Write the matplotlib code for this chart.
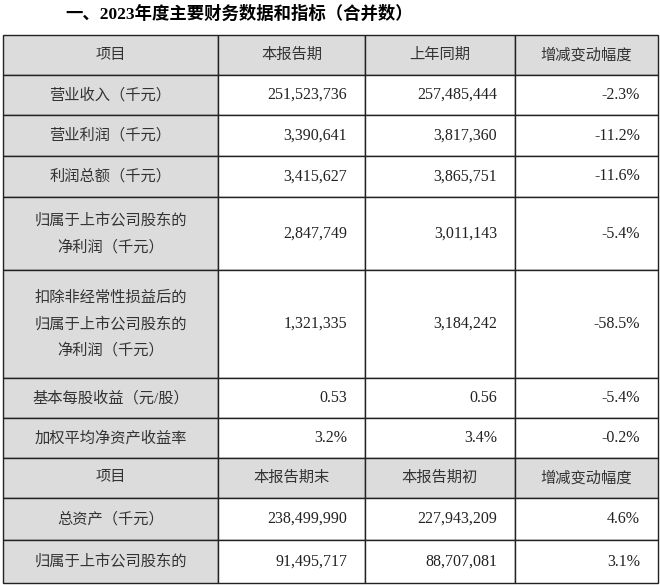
import matplotlib
matplotlib.use("Agg")
import matplotlib.pyplot as plt
from matplotlib.patches import Rectangle

title = "一、2023年度主要财务数据和指标（合并数）"
header1 = ["项目", "本报告期", "上年同期", "增减变动幅度"]
header2 = ["项目", "本报告期末", "本报告期初", "增减变动幅度"]
items1 = ["营业收入（千元）", "营业利润（千元）", "利润总额（千元）",
          "归属于上市公司股东的\n净利润（千元）",
          "扣除非经常性损益后的\n归属于上市公司股东的\n净利润（千元）",
          "基本每股收益（元/股）", "加权平均净资产收益率"]
current1 = ["251,523,736", "3,390,641", "3,415,627", "2,847,749", "1,321,335", "0.53", "3.2%"]
previous1 = ["257,485,444", "3,817,360", "3,865,751", "3,011,143", "3,184,242", "0.56", "3.4%"]
change1 = ["-2.3%", "-11.2%", "-11.6%", "-5.4%", "-58.5%", "-5.4%", "-0.2%"]
items2 = ["总资产（千元）", "归属于上市公司股东的"]
current2 = ["238,499,990", "91,495,717"]
previous2 = ["227,943,209", "88,707,081"]
change2 = ["4.6%", "3.1%"]

FONT = ["Liberation Serif", "Noto Sans CJK SC", "DejaVu Sans"]
cols = [3, 218, 365, 515, 658]
# row boundaries (pixel)
rows = [35, 75, 115, 156, 197, 270, 378, 418, 458, 498, 540, 583]

fig = plt.figure(figsize=(6.6, 5.85), dpi=100)
ax = fig.add_axes([0, 0, 1, 1])
ax.set_xlim(0, 660)
ax.set_ylim(585, 0)
ax.axis("off")

ax.text(65, 14, title, family=FONT, fontsize=12.5, fontweight="bold", va="center", ha="left")

table = [(True, header1)]
for r in zip(items1, current1, previous1, change1):
    table.append((False, list(r)))
table.append((True, header2))
for r in zip(items2, current2, previous2, change2):
    table.append((False, list(r)))

for i, (is_head, cells) in enumerate(table):
    y0, y1 = rows[i], rows[i + 1]
    ym = (y0 + y1) / 2
    for j in range(4):
        x0, x1 = cols[j], cols[j + 1]
        fc = "#dcdcdc" if (is_head or j == 0) else "white"
        ax.add_patch(Rectangle((x0, y0), x1 - x0, y1 - y0, facecolor=fc,
                               edgecolor="#222222", lw=1.0))
        if is_head or j == 0:
            ax.text((x0 + x1) / 2, ym, cells[j], family=FONT, fontsize=11,
                    ha="center", va="center", color="#333333", linespacing=2.0)
        else:
            ax.text(x1 - 18, ym, cells[j], family=FONT, fontsize=11.5,
                    ha="right", va="center", color="#222222")

fig.savefig("out.png", dpi=100)
